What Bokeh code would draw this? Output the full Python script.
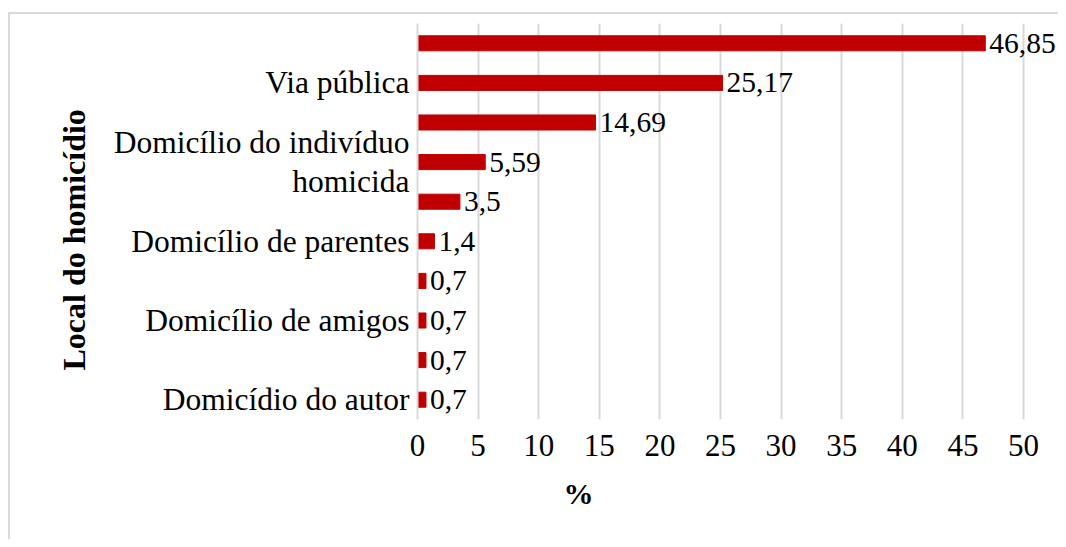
from bokeh.plotting import figure
from bokeh.models import ColumnDataSource, FixedTicker, Range1d, LabelSet, Title, InlineStyleSheet
from bokeh.embed import file_html
from bokeh.resources import INLINE

# Data (top to bottom)
categories = ["", "Via pública", "", "Domicílio do indivíduo\nhomicida", "",
              "Domicílio de parentes", "", "Domicílio de amigos", "", "Domicídio do autor"]
values = [46.85, 25.17, 14.69, 5.59, 3.5, 1.4, 0.7, 0.7, 0.7, 0.7]
x_ticks = [0, 5, 10, 15, 20, 25, 30, 35, 40, 45, 50]
y_title = "Local do homicídio"
x_title = "%"

FONT = "Liberation Serif"
BAR = "#C00000"
GRID = "#d9d9d9"

pos = list(range(1, len(values) + 1))
labels = [f"{v:g}".replace(".", ",") for v in values]
src = ColumnDataSource(dict(y=pos, v=values, lab=labels))

p = figure(width=1058, height=539, output_backend="svg", toolbar_location=None,
           x_range=Range1d(0, 52.89), y_range=Range1d(len(values) + 0.5, 0.5),
           min_border_left=417, min_border_right=0, min_border_top=23, min_border_bottom=120)
p.stylesheets = [InlineStyleSheet(css="""
:host { overflow: hidden; }
:host::after { content: ''; position: absolute; left: 8px; top: 12px; width: 1100px;
  height: 700px; border: 2px solid #d9d9d9; box-sizing: border-box; pointer-events: none; }
""")]
p.outline_line_color = None
p.background_fill_color = "white"
p.border_fill_color = "white"

p.hbar(y="y", right="v", left=0, height=0.38, color=BAR, source=src)

ls = LabelSet(x="v", y="y", text="lab", source=src, x_offset=4,
              text_font=FONT, text_font_size="29.5px", text_baseline="middle",
              text_color="black")
p.add_layout(ls)

# x axis
p.xaxis.ticker = FixedTicker(ticks=x_ticks)
p.xaxis.axis_line_color = None
p.xaxis.major_tick_line_color = None
p.xaxis.minor_tick_line_color = None
p.xaxis.major_label_text_font = FONT
p.xaxis.major_label_text_font_size = "31px"
p.xaxis.major_label_text_color = "black"
p.xaxis.major_label_standoff = 9

# y axis
p.yaxis.ticker = FixedTicker(ticks=pos)
p.yaxis.major_label_overrides = {pp: c for pp, c in zip(pos, categories)}
p.yaxis.axis_line_color = GRID
p.yaxis.axis_line_width = 2
p.yaxis.major_tick_line_color = None
p.yaxis.minor_tick_line_color = None
p.yaxis.major_label_text_font = FONT
p.yaxis.major_label_text_font_size = "31.5px"
p.yaxis.major_label_text_color = "black"
p.yaxis.major_label_text_line_height = 1.1
p.yaxis.major_label_standoff = 2

p.xgrid.grid_line_color = GRID
p.xgrid.grid_line_width = 2
p.ygrid.grid_line_color = None

p.add_layout(Title(text=y_title, align="left", offset=49, text_font=FONT,
                   text_font_size="32px", text_font_style="bold", text_color="black",
                   standoff=38), "left")
p.add_layout(Title(text=x_title, align="left", offset=146, text_font=FONT,
                   text_font_size="30px", text_font_style="bold", text_color="black",
                   standoff=32), "below")

open("out.html", "w").write(file_html(p, INLINE))
